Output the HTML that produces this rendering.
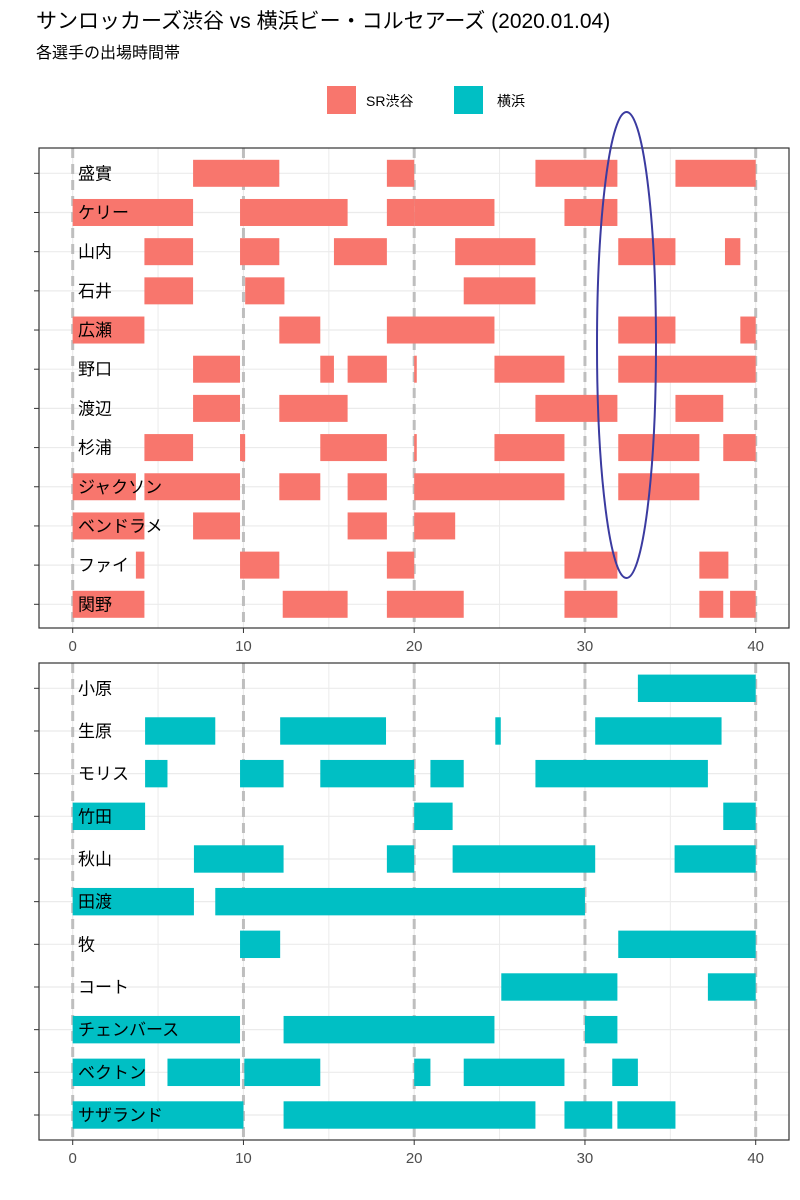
<!DOCTYPE html>
<html><head><meta charset="utf-8">
<style>
html,body{margin:0;padding:0;background:#fff;}
svg{display:block;font-family:"Liberation Sans","Noto Sans CJK JP",sans-serif;}
</style></head>
<body>
<svg id="chart" width="800" height="1200" viewBox="0 0 800 1200" xmlns="http://www.w3.org/2000/svg">
<rect width="800" height="1200" fill="#fff"/>
<text x="36" y="28" font-size="21" fill="#000">サンロッカーズ渋谷 vs 横浜ビー・コルセアーズ (2020.01.04)</text>
<text x="36" y="58" font-size="16" fill="#000">各選手の出場時間帯</text>
<g>
<rect x="327" y="86" width="29" height="28" fill="#F8766D"/>
<text x="366" y="106" font-size="14" fill="#000">SR渋谷</text>
<rect x="454" y="86" width="29" height="28" fill="#00BFC4"/>
<text x="497" y="106" font-size="14" fill="#000">横浜</text>
</g>
<g id="plots"></g>
<ellipse cx="626.5" cy="345" rx="29.5" ry="233" fill="none" stroke="#3b3ba0" stroke-width="2"/>
</svg>
<script>
const xTicks = [0, 10, 20, 30, 40];
const srPlayers = ["盛實","ケリー","山内","石井","広瀬","野口","渡辺","杉浦","ジャクソン","ベンドラメ","ファイ","関野"];
const srStints = [
 [[7.05,12.1],[18.4,20],[27.1,31.9],[35.3,40]],
 [[0,7.05],[9.8,16.1],[18.4,20],[20,24.7],[28.8,31.9]],
 [[4.2,7.05],[9.8,12.1],[15.3,18.4],[22.4,27.1],[31.95,35.3],[38.2,39.1]],
 [[4.2,7.05],[10.1,12.4],[22.9,27.1]],
 [[0,4.2],[12.1,14.5],[18.4,24.7],[31.95,35.3],[39.1,40]],
 [[7.05,9.8],[14.5,15.3],[16.1,18.4],[20,20.15],[24.7,28.8],[31.95,40]],
 [[7.05,9.8],[12.1,16.1],[27.1,31.9],[35.3,38.1]],
 [[4.2,7.05],[9.8,10.1],[14.5,18.4],[20,20.15],[24.7,28.8],[31.95,36.7],[38.1,40]],
 [[0,3.7],[4.2,9.8],[12.1,14.5],[16.1,18.4],[20,28.8],[31.95,36.7]],
 [[0,4.2],[7.05,9.8],[16.1,18.4],[20,22.4]],
 [[3.7,4.2],[9.8,12.1],[18.4,20],[28.8,31.9],[36.7,38.4]],
 [[0,4.2],[12.3,16.1],[18.4,22.9],[28.8,31.9],[36.7,38.1],[38.5,40]]
];
const ykPlayers = ["小原","生原","モリス","竹田","秋山","田渡","牧","コート","チェンバース","ベクトン","サザランド"];
const ykStints = [
 [[33.1,40]],
 [[4.24,8.35],[12.15,18.35],[24.75,25.07],[30.6,38.0]],
 [[4.24,5.55],[9.8,12.35],[14.5,20],[20.95,22.9],[27.1,37.2]],
 [[0,4.24],[20,22.25],[38.1,40]],
 [[7.1,12.35],[18.4,20],[22.25,30.6],[35.25,40]],
 [[0,7.1],[8.35,30]],
 [[9.8,12.15],[31.95,40]],
 [[25.1,31.9],[37.2,40]],
 [[0,9.8],[12.35,24.7],[30,31.9]],
 [[0,4.24],[5.55,9.8],[10.05,14.5],[20,20.95],[22.9,28.8],[31.6,33.1]],
 [[0,10],[12.35,27.1],[28.8,31.6],[31.9,35.3]]
];
const NS = "http://www.w3.org/2000/svg";
const root = document.getElementById("plots");
function mk(tag, attrs, parent){const e=document.createElementNS(NS,tag);for(const k in attrs)e.setAttribute(k,attrs[k]);parent.appendChild(e);return e;}
const X0 = 72.7, X1 = 755.7, PL = 39, PR = 789;
function xs(v){return X0 + (v - 0) / 40 * (X1 - X0);}
function drawPanel(key, players, stints, color, top, bottom, firstY, lastY, halfH){
  const g = mk("g", {}, root);
  
  
  const n = players.length;
  const ys = i => firstY + i * (lastY - firstY) / (n - 1);
  // minor grid
  for (let i = 0; i < xTicks.length - 1; i++) {
    const m = (xTicks[i] + xTicks[i+1]) / 2;
    const l = mk("line", {x1:xs(m),x2:xs(m),y1:top,y2:bottom,stroke:"#ebebeb","stroke-width":1}, g);
    
    
  }
  xTicks.forEach(t => {
    const l = mk("line", {x1:xs(t),x2:xs(t),y1:top,y2:bottom,stroke:"#ebebeb","stroke-width":1.2}, g);
    
    
  });
  players.forEach((p, i) => {
    const l = mk("line", {x1:PL,x2:PR,y1:ys(i),y2:ys(i),stroke:"#ebebeb","stroke-width":1.2}, g);
    
    
  });
  // dashed period lines
  xTicks.forEach(t => {
    const l = mk("line", {x1:xs(t),x2:xs(t),y1:top,y2:bottom,stroke:"#bebebe","stroke-width":3,"stroke-dasharray":"10 6"}, g);
    
    
  });
  // bars
  stints.forEach((row, i) => {
    row.forEach(s => {
      const r = mk("rect", {x:xs(s[0]),y:ys(i)-halfH,width:Math.max(1,xs(s[1])-xs(s[0])),height:2*halfH,fill:color}, g);
      
      
    });
  });
  // names
  players.forEach((p, i) => {
    const t = mk("text", {x:78,y:ys(i)+6,"font-size":17,fill:"#000"}, g);
    t.textContent = p;
    
    
    const tk = mk("line", {x1:34,x2:PL,y1:ys(i),y2:ys(i),stroke:"#333","stroke-width":1}, g);
    
    
  });
  const b = mk("rect", {x:PL,y:top,width:PR-PL,height:bottom-top,fill:"none",stroke:"#333","stroke-width":1.2}, g);
  
  
  xTicks.forEach(t => {
    const tk = mk("line", {x1:xs(t),x2:xs(t),y1:bottom,y2:bottom+5,stroke:"#333","stroke-width":1}, g);
    
    
    const lb = mk("text", {x:xs(t),y:bottom+23,"font-size":15,fill:"#4d4d4d","text-anchor":"middle"}, g);
    lb.textContent = t;
    
    
  });
}
drawPanel("sr", srPlayers, srStints, "#F8766D", 148, 628, 173.3, 604.3, 13.5);
drawPanel("yokohama", ykPlayers, ykStints, "#00BFC4", 663, 1140, 688.3, 1115, 13.7);
</script>
</body></html>
